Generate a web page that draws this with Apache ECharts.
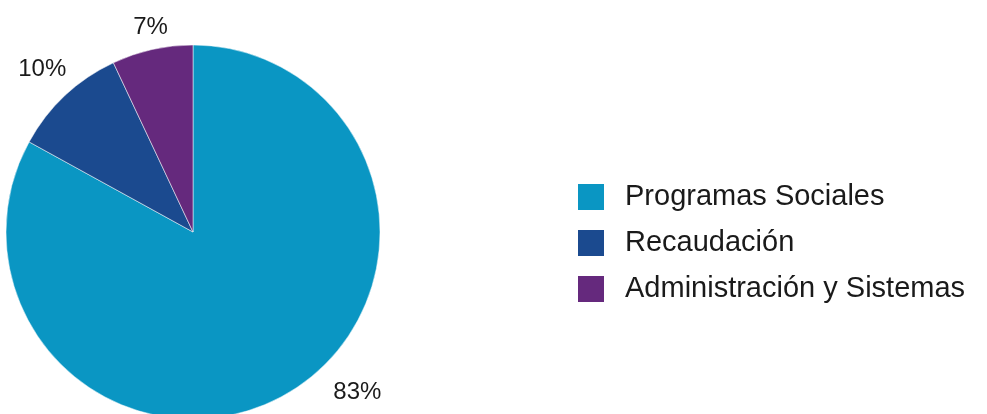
<!DOCTYPE html>
<html>
<head>
<meta charset="utf-8">
<script src="https://cdn.jsdelivr.net/npm/echarts@6/dist/echarts.min.js"></script>
<style>
html,body{margin:0;padding:0;background:#fff;}
#main{width:987px;height:414px;}
</style>
</head>
<body>
<div id="main"></div>
<script>
const categories = ['Programas Sociales', 'Recaudación', 'Administración y Sistemas'];
const values = [83, 10, 7];
const colors = ['#0a96c3', '#1b4a8f', '#65297d'];
const labelOffsets = [[30, -18], [20, -12], [25, -3]];

const chart = echarts.init(document.getElementById('main'), null, {renderer: 'canvas'});
const FONT = '"Liberation Sans", Arial, Helvetica, sans-serif';

chart.setOption({
  animation: false,
  backgroundColor: '#ffffff',
  legend: {
    orient: 'vertical',
    left: 576,
    top: 182,
    padding: 0,
    itemWidth: 28,
    itemHeight: 28,
    itemGap: 16,
    icon: 'rect',
    data: categories,
    textStyle: {
      fontFamily: FONT,
      fontSize: 29,
      lineHeight: 28,
      color: '#1a1a1a',
      padding: [0, 0, 0, 15]
    }
  },
  series: [{
    type: 'pie',
    center: [193, 232],
    radius: [0, 187],
    startAngle: 90,
    clockwise: true,
    avoidLabelOverlap: false,
    itemStyle: {borderColor: '#ffffff', borderWidth: 0.5},
    label: {
      show: true,
      position: 'outside',
      formatter: '{c}%',
      fontFamily: FONT,
      fontSize: 24,
      color: '#1a1a1a'
    },
    labelLine: {show: false, length: 20, length2: 0},
    emphasis: {disabled: true},
    data: categories.map((name, i) => ({
      name: name,
      value: values[i],
      itemStyle: {color: colors[i]},
      label: {offset: labelOffsets[i]}
    }))
  }]
});
</script>
</body>
</html>
